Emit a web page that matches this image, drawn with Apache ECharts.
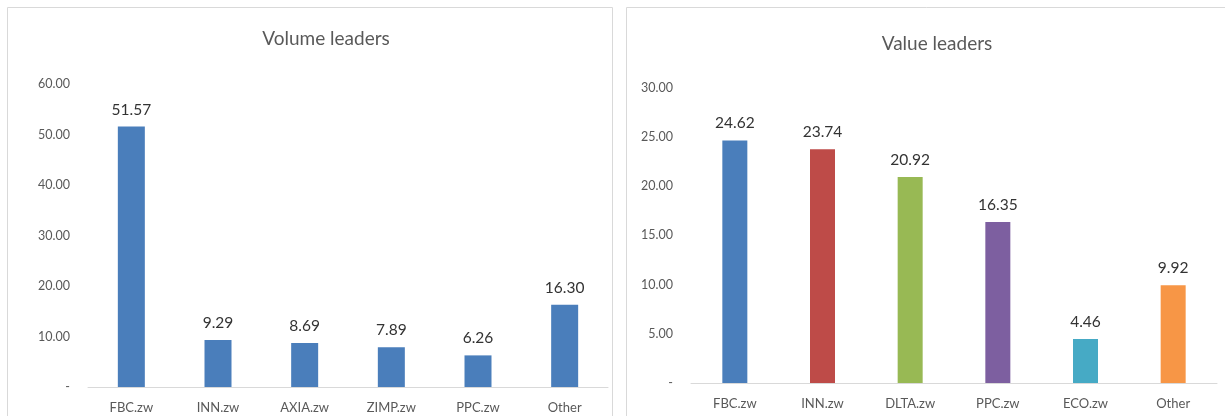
<!DOCTYPE html>
<html>
<head>
<meta charset="utf-8">
<script src="https://cdn.jsdelivr.net/npm/echarts@6/dist/echarts.min.js"></script>
<style>
html,body{margin:0;padding:0;background:#fff;}
#c{width:1225px;height:416px;}
</style>
</head>
<body>
<div id="c"></div>
<script>
var volumeCategories = ['FBC.zw','INN.zw','AXIA.zw','ZIMP.zw','PPC.zw','Other'];
var volumeValues = [51.57, 9.29, 8.69, 7.89, 6.26, 16.30];
var valueCategories = ['FBC.zw','INN.zw','DLTA.zw','PPC.zw','ECO.zw','Other'];
var valueValues = [24.62, 23.74, 20.92, 16.35, 4.46, 9.92];
var valueColors = ['#4a7ebb','#be4b48','#98b954','#7d5fa0','#46aac5','#f79646'];
var volumeColor = '#4a7ebb';

var fontFam = 'Lato, "Open Sans", sans-serif';
function fmt(v){ return v === 0 ? '-' : v.toFixed(2); }

var chart = echarts.init(document.getElementById('c'));
chart.setOption({
  animation: false,
  textStyle: {fontFamily: fontFam},
  graphic: [
    {type:'rect', shape:{x:7.5,y:7.5,width:605,height:420}, style:{fill:'none',stroke:'#d9d9d9',lineWidth:1}},
    {type:'rect', shape:{x:626.5,y:7.5,width:610,height:420}, style:{fill:'none',stroke:'#d9d9d9',lineWidth:1}}
  ],
  title: [
    {text:'Volume leaders', left:321, top:24, textAlign:'center',
     textStyle:{fontFamily:fontFam,fontSize:19,fontWeight:'normal',color:'#595959'}},
    {text:'Value leaders', left:932, top:29, textAlign:'center',
     textStyle:{fontFamily:fontFam,fontSize:19,fontWeight:'normal',color:'#595959'}}
  ],
  grid: [
    {left:88, top:84, width:520, height:303},
    {left:691, top:87.5, width:526, height:295.5}
  ],
  xAxis: [
    {type:'category', gridIndex:0, data:volumeCategories,
     axisLine:{lineStyle:{color:'#d9d9d9'}}, axisTick:{show:false},
     axisLabel:{color:'#595959',fontSize:13,margin:14,fontFamily:fontFam}},
    {type:'category', gridIndex:1, data:valueCategories,
     axisLine:{lineStyle:{color:'#d9d9d9'}}, axisTick:{show:false},
     axisLabel:{color:'#595959',fontSize:13,margin:14,fontFamily:fontFam}}
  ],
  yAxis: [
    {type:'value', gridIndex:0, min:0, max:60, interval:10,
     splitLine:{show:false}, axisLine:{show:false}, axisTick:{show:false},
     axisLabel:{color:'#595959',fontSize:12.5,margin:18,formatter:fmt,fontFamily:fontFam}},
    {type:'value', gridIndex:1, min:0, max:30, interval:5,
     splitLine:{show:false}, axisLine:{show:false}, axisTick:{show:false},
     axisLabel:{color:'#595959',fontSize:12.5,margin:18,formatter:fmt,fontFamily:fontFam}}
  ],
  series: [
    {type:'bar', xAxisIndex:0, yAxisIndex:0, data:volumeValues, barWidth:27,
     itemStyle:{color:volumeColor},
     label:{show:true, position:'top', distance:9, color:'#333333', fontSize:15.5, fontFamily:fontFam,
            formatter:function(p){return p.value.toFixed(2);}}},
    {type:'bar', xAxisIndex:1, yAxisIndex:1, barWidth:25,
     data:valueValues.map(function(v,i){return {value:v, itemStyle:{color:valueColors[i]}};}),
     label:{show:true, position:'top', distance:9, color:'#333333', fontSize:15.5, fontFamily:fontFam,
            formatter:function(p){return p.value.toFixed(2);}}}
  ]
});
</script>
</body>
</html>
